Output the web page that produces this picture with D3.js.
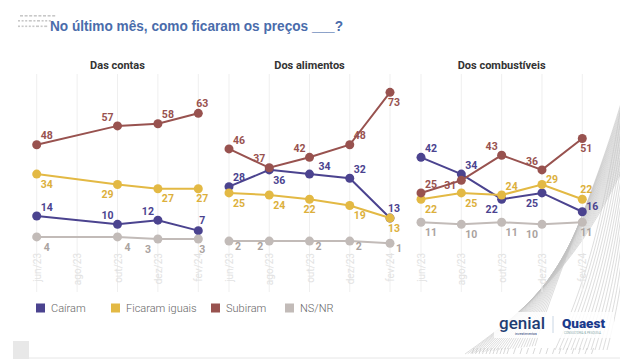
<!DOCTYPE html>
<html><head><meta charset="utf-8">
<script src="https://cdn.jsdelivr.net/npm/d3@7"></script>
<style>
html,body{margin:0;padding:0;background:#fff;}
svg{display:block;font-family:Roboto,"Noto Sans",sans-serif;}
</style></head>
<body>
<svg id="c" width="620" height="359"></svg>
<script>
const months = ["jun/23","ago/23","out/23","dez/23","fev/24"];
const seriesNames = ["Caíram","Ficaram iguais","Subiram","NS/NR"];
const panelTitles = ["Das contas","Dos alimentos","Dos combustíveis"];

// values per panel, order: Caíram, Ficaram iguais, Subiram, NS/NR
const contasCairam = [14, null, 10, 12, 7];
const contasIguais = [34, null, 29, 27, 27];
const contasSubiram = [48, null, 57, 58, 63];
const contasNsnr = [4, null, 4, 3, 3];

const alimentosCairam = [28, 36, 34, 32, 13];
const alimentosIguais = [25, 24, 22, 19, 13];
const alimentosSubiram = [46, 37, 42, 48, 73];
const alimentosNsnr = [2, 2, 2, 2, 1];

const combustCairam = [42, 34, 22, 25, 16];
const combustIguais = [22, 25, 24, 29, 22];
const combustSubiram = [25, 31, 43, 36, 51];
const combustNsnr = [11, 10, 11, 10, 11];

// label placement codes
const contasPos = [["ur","","ul","ul","u"],["dr","","dl","dr","d"],["ur","","ul","ur","u"],["dr","","dr","dl","d"]];
const alimentosPos = [["ur","dr","ur2","ur","u"],["dr","dr","dc","dr","d"],["ur","ul","ul","ur","d"],["rs","ls","rs","rs","rs"]];
const combustPos = [["ur","ur","dl","dl","r"],["dr","dr","ur","r","u"],["ur","l","ul","ul","d"],["dr","dr","dr","dl","d"]];

const panels = [
  {title: panelTitles[0], data: [contasCairam, contasIguais, contasSubiram, contasNsnr], pos: contasPos, range:[36.7,198.3]},
  {title: panelTitles[1], data: [alimentosCairam, alimentosIguais, alimentosSubiram, alimentosNsnr], pos: alimentosPos, range:[229,390]},
  {title: panelTitles[2], data: [combustCairam, combustIguais, combustSubiram, combustNsnr], pos: combustPos, range:[421,582.3]}
];

const lineColors = ["#4b438f","#e3b944","#98524f","#c2bbb8"];
const labelColors = ["#4b438f","#dcb03c","#98524f","#aaa3a0"];
const offsets = {
  ur:[10,-9], ur2:[15,-8], ul:[-10,-9], dr:[10,10], dl:[-10,10], u:[4,-10], d:[4,10], dc:[0,10],
  r:[10,-5], l:[-11,5], rs:[9,5], ls:[-9,5]
};

const svg = d3.select("#c");

// decorative swirl on the right
const deco = svg.append("g").attr("fill","none").attr("stroke","#a9a9a9").attr("stroke-width",0.55).attr("opacity",0.7);
for (let i = 0; i < 26; i++) {
  const t = i/25;
  deco.append("path").attr("d",
    `M${465 + t*70},${354 - t*8} C${535 + t*25},${305 - t*40} ${582 + t*12},${255 - t*60} ${622},${170 - t*70}`);
}
for (let i = 0; i < 14; i++) {
  deco.append("path").attr("d", `M${555 + i*4},${350} C${585+i*3},${285} ${602+i*2},${225} ${622},${100+i*12}`);
}
// slash marks below logos
const slash = svg.append("g").attr("stroke","#c0c0c0").attr("stroke-width",0.6);
for (let i = 0; i < 24; i++) {
  const x = 472 + i*(i < 10 ? 3.5 : 6.5) + (i>=10?-30:0);
  slash.append("line").attr("x1",x).attr("y1",354).attr("x2",x+2).attr("y2",348);
}

// top-left small mark
const mark = svg.append("g").attr("fill","#c8c8c8");
[[20,15,[3,3,3,3,3,3,3,3]],[18,20,[2,2,2,3,2,3,2,2,2]],[18,25.5,[2,2,2,2,2,3,2,3]]].forEach(([x0,y0,arr])=>{
  let x=x0; arr.forEach(w=>{ mark.append("rect").attr("x",x).attr("y",y0).attr("width",w).attr("height",1.6); x+=w+1.6; });
});

// title
svg.append("text").attr("x",50).attr("y",30.5)
  .attr("font-family","'Liberation Sans',Arial,sans-serif").attr("font-weight","bold")
  .attr("font-size",15.5).attr("fill","#4a6cab")
  .attr("textLength",293).attr("lengthAdjust","spacingAndGlyphs")
  .text("No último mês, como ficaram os preços ___?");

const y = d3.scaleLinear().domain([0,60]).range([245.3,119.6]);

panels.forEach(p => {
  const x = d3.scalePoint().domain(months).range(p.range);
  const g = svg.append("g");
  // gridlines
  g.selectAll("line.grid").data(months).join("line")
    .attr("x1",d=>x(d)).attr("x2",d=>x(d)).attr("y1",74).attr("y2",292)
    .attr("stroke","#efefef").attr("stroke-width",1);
  // axis labels
  const axis = d3.axisBottom(x).tickSize(0).tickPadding(0);
  const ag = g.append("g").attr("transform","translate(0,253)").call(axis);
  ag.select(".domain").remove();
  ag.selectAll("text").attr("transform","rotate(-90)").attr("text-anchor","end")
    .attr("x",0).attr("y",0).attr("dy","0.35em").attr("dx",0)
    .attr("font-size",10).attr("fill","#e2e2e2").attr("font-family","Roboto,sans-serif");
  // title
  g.append("text").attr("x",(p.range[0]+p.range[1])/2).attr("y",69)
    .attr("text-anchor","middle").attr("font-weight","bold").attr("font-size",11)
    .attr("fill","#333").text(p.title);

  const line = d3.line().defined(d=>d.v!=null).x(d=>x(d.m)).y(d=>y(d.v));
  p.data.forEach((vals, si) => {
    const pts = months.map((m,i)=>({m, v: vals[i], pos: p.pos[si][i]}));
    const valid = pts.filter(d=>d.v!=null);
    g.append("path").datum(valid).attr("d", line)
      .attr("fill","none").attr("stroke",lineColors[si]).attr("stroke-width",2);
    g.selectAll(null).data(valid).join("circle")
      .attr("cx",d=>x(d.m)).attr("cy",d=>y(d.v)).attr("r",4.5).attr("fill",lineColors[si]);
  });
  p.data.forEach((vals, si) => {
    const pts = months.map((m,i)=>({m, v: vals[i], pos: p.pos[si][i]})).filter(d=>d.v!=null);
    g.selectAll(null).data(pts).join("text")
      .attr("x",d=>x(d.m)+offsets[d.pos][0]).attr("y",d=>y(d.v)+offsets[d.pos][1])
      .attr("dy","0.35em").attr("text-anchor","middle")
      .attr("font-weight","bold").attr("font-size",10.5).attr("fill",labelColors[si])
      .text(d=>d.v);
  });
});

// legend
const legX = [36,111,211,285];
const lg = svg.append("g");
seriesNames.forEach((n,i)=>{
  lg.append("rect").attr("x",legX[i]).attr("y",303.5).attr("width",9).attr("height",9).attr("fill",lineColors[i]);
  lg.append("text").attr("x",legX[i]+15).attr("y",308).attr("dy","0.35em")
    .attr("font-size",11).attr("font-weight",300).attr("fill","#666").text(n);
});

// logos
const logo = svg.append("g");
logo.append("rect").attr("x",494).attr("y",312).attr("width",120).attr("height",26).attr("fill","#fff").attr("opacity",0.85);
logo.append("text").attr("x",499).attr("y",329).attr("font-size",17).attr("font-weight",500)
  .attr("fill","#1f3d73").attr("font-family","Roboto,sans-serif").text("genial");
logo.append("text").attr("x",515).attr("y",335).attr("font-size",3.5).attr("fill","#1f3d73").text("investimentos");
logo.append("line").attr("x1",553).attr("x2",553).attr("y1",316).attr("y2",333).attr("stroke","#bcd").attr("stroke-width",0.8);
logo.append("text").attr("x",562).attr("y",328).attr("font-size",13.5).attr("font-weight","900")
  .attr("fill","#1b3a8c").attr("font-family","Roboto,sans-serif").text("Quaest");
logo.append("text").attr("x",564).attr("y",334).attr("font-size",3).attr("fill","#8aa").text("CONSULTORIA & PESQUISA");

// bottom
svg.append("rect").attr("x",13).attr("y",341).attr("width",16).attr("height",18).attr("fill","#e8e8e8");
svg.append("line").attr("x1",29).attr("x2",620).attr("y1",358).attr("y2",358).attr("stroke","#e6e6e6");
</script>
</body></html>
